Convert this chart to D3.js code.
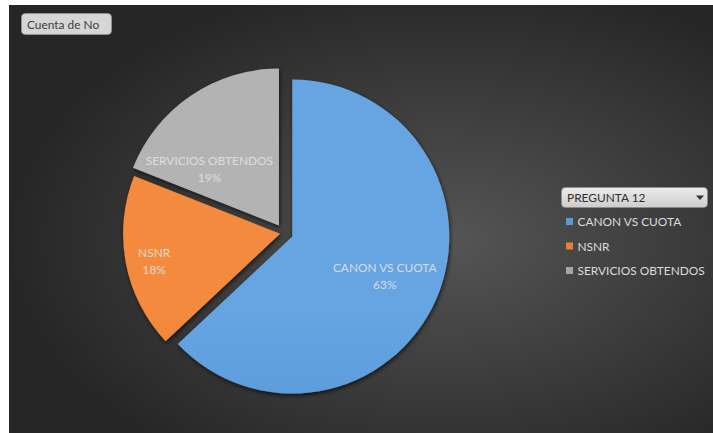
<!DOCTYPE html>
<html>
<head>
<meta charset="utf-8">
<script src="https://cdn.jsdelivr.net/npm/d3@7"></script>
<style>
  html, body { margin: 0; padding: 0; background: #ffffff; }
  svg { display: block; }
</style>
</head>
<body>
<div id="chart"></div>
<script>
// Pregunta 12 — "Cuenta de No" by category
const categories = ["CANON VS CUOTA", "NSNR", "SERVICIOS OBTENDOS"];
const values = [63, 18, 19];
const sliceColors = [
  ["#66a5e2", "#3f86cd"],
  ["#f38a3d", "#e06a1b"],
  ["#b3b3b3", "#9b9b9b"]
];
const legendTitle = "PREGUNTA 12";
const fieldButton = "Cuenta de No";

const W = 713, H = 433;
const FONT = "Lato, 'Liberation Sans', sans-serif";
const FS = 11.9;
const svg = d3.select("#chart").append("svg").attr("width", W).attr("height", H);
const defs = svg.append("defs");

// Panel background: dark radial glow
const bg = defs.append("radialGradient").attr("id", "bgGrad")
  .attr("cx", "62%").attr("cy", "55%").attr("r", "62%");
bg.append("stop").attr("offset", "0%").attr("stop-color", "#555555");
bg.append("stop").attr("offset", "100%").attr("stop-color", "#262626");
svg.append("rect").attr("x", 9).attr("y", 5).attr("width", W - 9).attr("height", H - 5)
  .attr("fill", "url(#bgGrad)");

// Soft shadow under slices
const sh = defs.append("filter").attr("id", "shadow")
  .attr("x", "-20%").attr("y", "-20%").attr("width", "140%").attr("height", "140%");
sh.append("feDropShadow").attr("dx", 1).attr("dy", 2).attr("stdDeviation", 2)
  .attr("flood-color", "#000").attr("flood-opacity", 0.65);

const cx = 284, cy = 233, r = 157;
// Per-slice explosion distance, px
const explode = [9, 4, 9];

sliceColors.forEach((c, i) => {
  const g = defs.append("linearGradient").attr("id", "slice" + i)
    .attr("gradientUnits", "userSpaceOnUse")
    .attr("x1", 0).attr("y1", cy - r).attr("x2", 0).attr("y2", cy + r);
  g.append("stop").attr("offset", "0%").attr("stop-color", c[0]);
  g.append("stop").attr("offset", "100%").attr("stop-color", c[1]);
});

const pie = d3.pie().sort(null).value(d => d.value);
const arcs = pie(categories.map((c, i) => ({ name: c, value: values[i], i })));
const arc = d3.arc().innerRadius(0).outerRadius(r);

const total = d3.sum(values);
const fmt = v => Math.round(v / total * 100) + "%";

// Label placement relative to each slice apex: [fraction of radius, angle in degrees]
const labelPlacement = [[0.64, 113], [0.82, 258], [0.57, 309]];

const chart = svg.append("g").attr("transform", `translate(${cx},${cy})`);

const slices = chart.selectAll("g.slice").data(arcs).enter().append("g")
  .attr("class", "slice")
  .attr("transform", d => {
    const a = (d.startAngle + d.endAngle) / 2;
    const e = explode[d.data.i];
    return `translate(${e * Math.sin(a)},${-e * Math.cos(a)})`;
  });

slices.append("path")
  .attr("d", arc)
  .attr("fill", d => `url(#slice${d.data.i})`)
  .attr("filter", "url(#shadow)");

slices.each(function(d) {
  const [f, deg] = labelPlacement[d.data.i];
  const a = deg * Math.PI / 180;
  const x = f * r * Math.sin(a), y = -f * r * Math.cos(a);
  const t = d3.select(this).append("text")
    .attr("text-anchor", "middle")
    .attr("font-family", FONT)
    .attr("font-size", FS)
    .attr("fill", "#e2e2e2")
    .attr("fill-opacity", 0.92);
  t.append("tspan").attr("x", x).attr("y", y - 4).text(d.data.name);
  t.append("tspan").attr("x", x).attr("y", y + 13).text(fmt(d.data.value));
});

// Field button (top-left)
const fb = svg.append("g");
fb.append("rect").attr("x", 21.5).attr("y", 13.5).attr("width", 90).attr("height", 21)
  .attr("rx", 4).attr("fill", "#d6d6d6").attr("stroke", "#9a9a9a").attr("stroke-width", 0.6);
fb.append("text").attr("x", 27).attr("y", 28.5)
  .attr("font-family", FONT).attr("font-size", FS)
  .attr("fill", "#3c3c3c").text(fieldButton);

// Legend
const lg = svg.append("g");
const lgGrad = defs.append("linearGradient").attr("id", "lgGrad")
  .attr("x1", 0).attr("y1", 0).attr("x2", 0).attr("y2", 1);
lgGrad.append("stop").attr("offset", "0%").attr("stop-color", "#ececec");
lgGrad.append("stop").attr("offset", "100%").attr("stop-color", "#cdcdcd");
lg.append("rect").attr("x", 561.5).attr("y", 187.5).attr("width", 146).attr("height", 20)
  .attr("rx", 4).attr("fill", "url(#lgGrad)").attr("stroke", "#8c8c8c").attr("stroke-width", 0.6);
lg.append("text").attr("x", 567).attr("y", 202)
  .attr("font-family", FONT).attr("font-size", FS)
  .attr("fill", "#2e2e2e").text(legendTitle);
lg.append("path").attr("d", "M696,195.5 L704,195.5 L700,200 Z").attr("fill", "#333");

const legendY = d3.scalePoint().domain(categories).range([221.5, 270.5]);
const swatch = ["#5b9bd5", "#ed7d31", "#a5a5a5"];
const items = lg.selectAll("g.item").data(categories).enter().append("g")
  .attr("transform", d => `translate(566,${legendY(d)})`);
items.append("rect").attr("x", 0).attr("y", -3.5).attr("width", 7).attr("height", 7)
  .attr("fill", (d, i) => swatch[i]);
items.append("text").attr("x", 11.5).attr("y", 4.5)
  .attr("font-family", FONT).attr("font-size", FS)
  .attr("fill", "#dcdcdc").text(d => d);
</script>
</body>
</html>
